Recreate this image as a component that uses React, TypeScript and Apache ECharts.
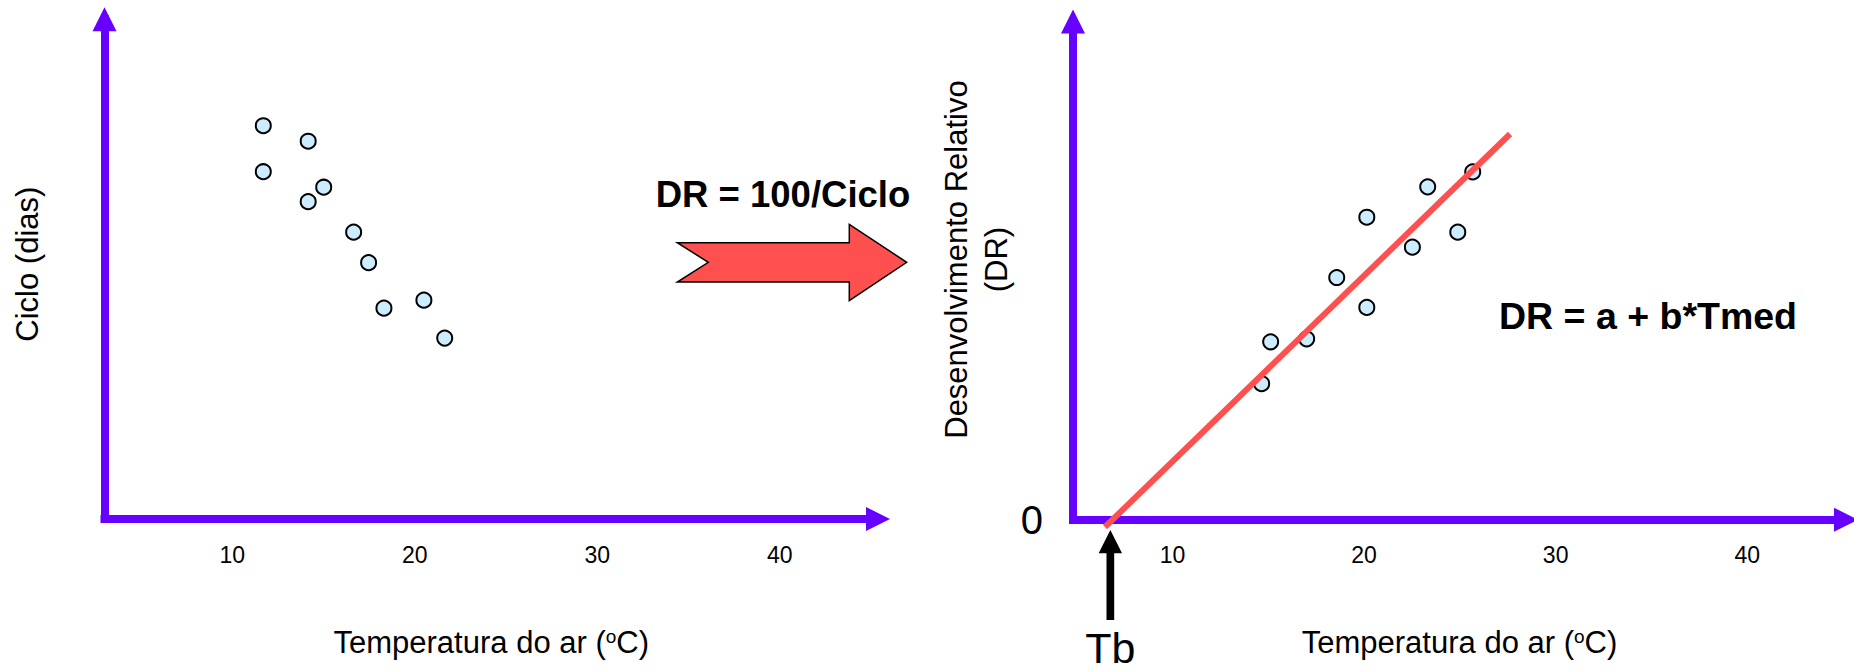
import React, { useEffect, useRef } from 'react';
import * as echarts from 'echarts';

// Left chart: cycle length (days, relative units) vs air temperature
const leftTemp = [11.7, 14.16, 11.7, 15.01, 14.16, 16.65, 17.47, 18.31, 20.5, 21.64];
const leftCiclo = [78.7, 75.6, 69.5, 66.4, 63.5, 57.4, 51.3, 42.2, 43.8, 36.2];

// Right chart: relative development vs air temperature
const rightTemp = [25.67, 23.32, 20.14, 24.89, 22.52, 18.57, 20.14, 15.12, 17.0, 14.65];
const rightDR = [69.8, 66.8, 60.7, 57.7, 54.7, 48.6, 42.6, 35.7, 36.3, 27.3];

// Regression line DR = a + b*Tmed
const fitTemp = [6.47, 27.62];
const fitDR = [-1.46, 77.4];

const tempTicks = [10, 20, 30, 40];
const drTicks = [0];
const tbValue = 6.75;

const FONT = '"Liberation Sans", Arial, Helvetica, sans-serif';
const AXIS = '#6600ff';

function axisLine() {
  return {
    show: true,
    onZero: false,
    symbol: ['none', 'triangle'],
    symbolSize: [24, 24],
    lineStyle: { color: AXIS, width: 8, cap: 'square' },
  };
}

const tempName = '{t|Temperatura do ar (}{s|o}{t|C)}';
const tempNameStyle = {
  fontSize: 31,
  fontFamily: FONT,
  color: '#000',
  verticalAlign: 'middle',
  rich: {
    t: { fontSize: 31, fontFamily: FONT, color: '#000' },
    s: { fontSize: 19, fontFamily: FONT, color: '#000', verticalAlign: 'top', lineHeight: 14 },
  },
};

function xAxis(gridIndex: number, min: number, max: number) {
  return {
    type: 'value',
    gridIndex,
    min,
    max,
    axisLine: axisLine(),
    axisTick: { show: false },
    splitLine: { show: false },
    axisLabel: {
      customValues: tempTicks,
      fontSize: 23,
      fontFamily: FONT,
      color: '#000',
      margin: 35.5,
      verticalAlign: 'middle',
    },
    name: tempName,
    nameLocation: 'middle',
    nameGap: 123,
    nameTextStyle: tempNameStyle,
  };
}

export default function App() {
  const ref = useRef<HTMLDivElement>(null);

  useEffect(() => {
    document.body.style.margin = '0';
    const chart = echarts.init(ref.current as HTMLDivElement, null, { renderer: 'svg' });
    const option: any = {
      animation: false,
      backgroundColor: '#ffffff',
      grid: [
        { left: 104.5, top: 19.3, width: 773.5, height: 499.7, outerBoundsMode: 'none' },
        { left: 1073, top: 21.4, width: 773, height: 498.3, outerBoundsMode: 'none' },
      ],
      xAxis: [xAxis(0, 3.0, 45.38), xAxis(1, 4.8, 45.16)],
      yAxis: [
        {
          type: 'value',
          gridIndex: 0,
          min: 0,
          max: 100,
          axisLine: axisLine(),
          axisTick: { show: false },
          splitLine: { show: false },
          axisLabel: { show: false },
          name: 'Ciclo (dias)',
          nameLocation: 'middle',
          nameGap: 77.5,
          nameTextStyle: {
            fontSize: 31,
            fontFamily: FONT,
            color: '#000',
            verticalAlign: 'middle',
            padding: [0, 0, 0, 10],
          },
        },
        {
          type: 'value',
          gridIndex: 1,
          min: 0,
          max: 100,
          axisLine: axisLine(),
          axisTick: { show: false },
          splitLine: { show: false },
          axisLabel: {
            customValues: drTicks,
            formatter: (v: number) => (drTicks.indexOf(v) >= 0 ? String(v) : ''),
            fontSize: 40,
            fontFamily: FONT,
            color: '#000',
            margin: 30,
            verticalAlign: 'middle',
          },
          name: 'Desenvolvimento Relativo\n(DR)',
          nameLocation: 'middle',
          nameGap: 68.4,
          nameTextStyle: {
            fontSize: 31,
            lineHeight: 40,
            fontFamily: FONT,
            color: '#000',
            verticalAlign: 'middle',
            padding: [0, 0, 0, 22],
          },
        },
      ],
      series: [
        {
          type: 'scatter',
          xAxisIndex: 0,
          yAxisIndex: 0,
          data: leftTemp.map((t, i) => [t, leftCiclo[i]]),
          symbol: 'circle',
          symbolSize: 15,
          itemStyle: { color: '#ccecff', borderColor: '#000', borderWidth: 2, opacity: 1 },
          z: 2,
        },
        {
          type: 'scatter',
          xAxisIndex: 1,
          yAxisIndex: 1,
          data: rightTemp.map((t, i) => [t, rightDR[i]]),
          symbol: 'circle',
          symbolSize: 15,
          itemStyle: { color: '#ccecff', borderColor: '#000', borderWidth: 2, opacity: 1 },
          z: 2,
        },
        {
          type: 'line',
          xAxisIndex: 1,
          yAxisIndex: 1,
          data: fitTemp.map((t, i) => [t, fitDR[i]]),
          symbol: 'none',
          showSymbol: false,
          clip: false,
          lineStyle: { color: '#ff5050', width: 6 },
          z: 3,
        },
      ],
    };
    chart.setOption(option);

    const p = chart.convertToPixel({ xAxisIndex: 1, yAxisIndex: 1 } as any, [tbValue, 0]) as number[];
    const tx = p[0];
    const ty = p[1] + 10.3;
    chart.setOption({
      graphic: [
        {
          id: 'bigArrow',
          type: 'polygon',
          shape: {
            points: [
              [677.3, 242.7],
              [849.3, 242.7],
              [849.3, 224.3],
              [906.7, 262.3],
              [849.3, 300.7],
              [849.3, 282],
              [677.3, 282],
              [708.3, 262.3],
            ],
          },
          style: { fill: '#ff5050', stroke: '#000', lineWidth: 1.5 },
        },
        {
          id: 'drCiclo',
          type: 'text',
          x: 783,
          y: 194,
          style: {
            text: 'DR = 100/Ciclo',
            fontSize: 36.5,
            fontWeight: 'bold',
            fontFamily: FONT,
            fill: '#000',
            align: 'center',
            verticalAlign: 'middle',
          },
        },
        {
          id: 'drEq',
          type: 'text',
          x: 1648,
          y: 316,
          style: {
            text: 'DR = a + b*Tmed',
            fontSize: 37.5,
            fontWeight: 'bold',
            fontFamily: FONT,
            fill: '#000',
            align: 'center',
            verticalAlign: 'middle',
          },
        },
        {
          id: 'tbArrow',
          type: 'polygon',
          shape: {
            points: [
              [tx, ty],
              [tx + 11.7, ty + 23.3],
              [tx + 3.85, ty + 23.3],
              [tx + 3.85, ty + 90],
              [tx - 3.85, ty + 90],
              [tx - 3.85, ty + 23.3],
              [tx - 11.7, ty + 23.3],
            ],
          },
          style: { fill: '#000' },
        },
        {
          id: 'tbText',
          type: 'text',
          x: tx,
          y: 648,
          style: {
            text: 'Tb',
            fontSize: 43,
            fontFamily: FONT,
            fill: '#000',
            align: 'center',
            verticalAlign: 'middle',
          },
        },
      ],
    });

    return () => chart.dispose();
  }, []);

  return <div ref={ref} style={{ width: 1854, height: 671 }} />;
}
